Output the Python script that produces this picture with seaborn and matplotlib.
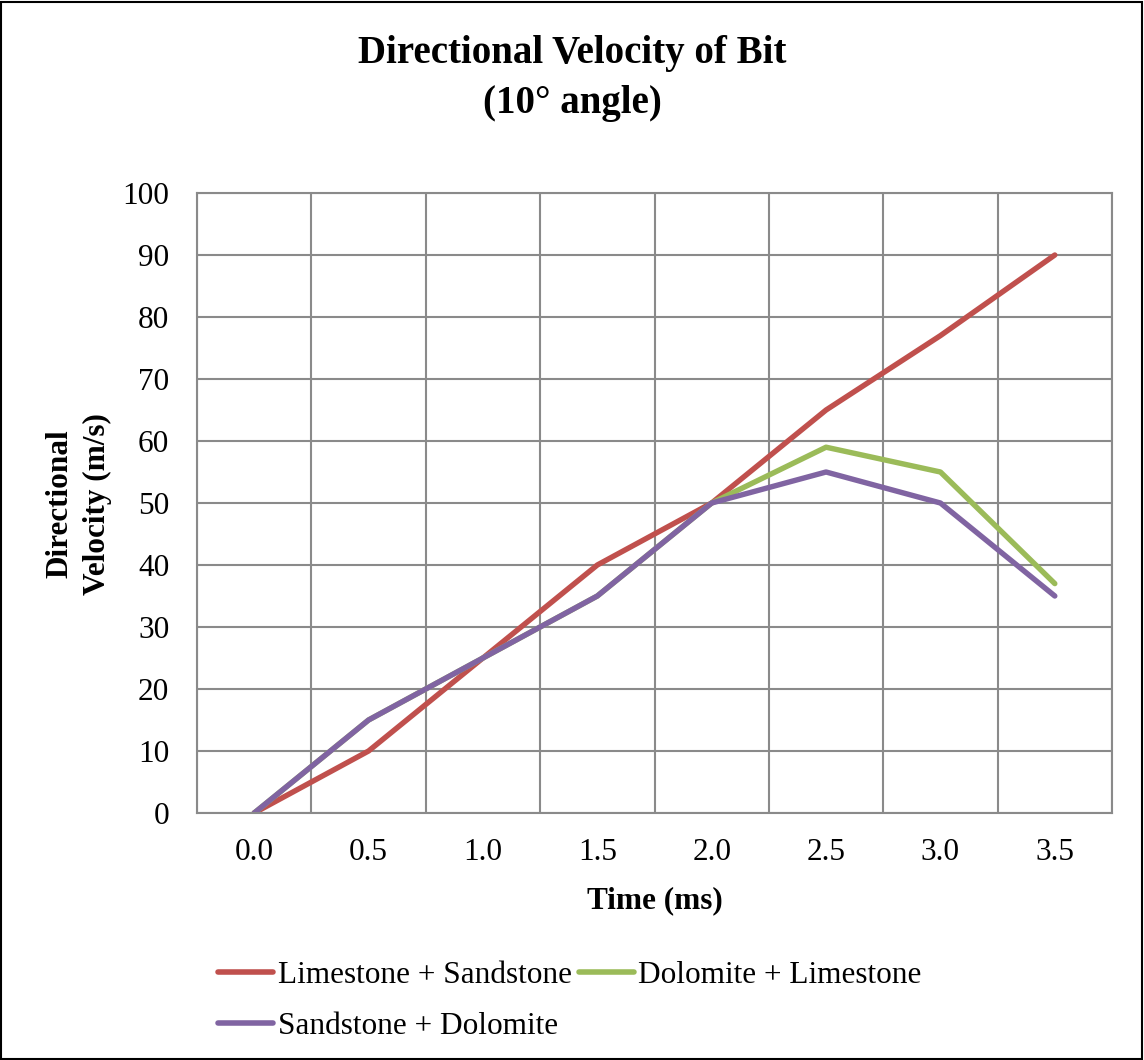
import matplotlib
matplotlib.use("Agg")
import matplotlib.pyplot as plt
import seaborn as sns
import pandas as pd
from matplotlib.patches import Rectangle
from matplotlib.lines import Line2D

categories = ["0.0", "0.5", "1.0", "1.5", "2.0", "2.5", "3.0", "3.5"]
limestone_sandstone = [0, 10, 25, 40, 50, 65, 77, 90]
dolomite_limestone = [0, 15, 25, 35, 50, 59, 55, 37]
sandstone_dolomite = [0, 15, 25, 35, 50, 55, 50, 35]
series_names = ["Limestone + Sandstone", "Dolomite + Limestone", "Sandstone + Dolomite"]
colors = ["#C0504D", "#9BBB59", "#8064A2"]

sns.set_theme(style="white")
plt.rcParams["font.family"] = ["Liberation Serif", "DejaVu Serif"]
plt.rcParams["text.color"] = "black"
plt.rcParams["axes.labelcolor"] = "black"

FS = 22.5

rows = []
for name, vals in zip(series_names, [limestone_sandstone, dolomite_limestone, sandstone_dolomite]):
    for i, v in enumerate(vals):
        rows.append({"pos": i, "value": v, "series": name})
df = pd.DataFrame(rows)

fig = plt.figure(figsize=(11.44, 10.6), dpi=100)
ax = fig.add_axes([197/1144, 1 - 813/1060, (1112-197)/1144, (813-193)/1060])

sns.lineplot(data=df, x="pos", y="value", hue="series", hue_order=series_names,
             palette=colors, linewidth=3.9, ax=ax, legend=False, sort=False)

ax.set_xlim(-0.5, len(categories) - 0.5)
ax.set_ylim(0, 100)
ax.set_yticks(range(0, 101, 10))
ax.set_xticks(range(len(categories)))
ax.set_xticklabels(categories)
ax.set_xticks([i - 0.5 for i in range(len(categories) + 1)], minor=True)
ax.grid(False)
ax.yaxis.grid(True, color="#8a8a8a", linewidth=1.5)
ax.xaxis.grid(True, which="minor", color="#8a8a8a", linewidth=1.5)
ax.set_axisbelow(True)
for s in ax.spines.values():
    s.set_color("#8a8a8a")
    s.set_linewidth(1.5)
ax.tick_params(axis="both", which="both", length=0, labelsize=FS, colors="black")
ax.tick_params(axis="y", pad=20)
ax.tick_params(axis="x", pad=18)

ax.set_xlabel("Time (ms)", fontsize=FS, fontweight="bold", labelpad=14)
ax.set_ylabel("")
fig.text(60/1144, 1 - 504/1060, "Directional", rotation=90,
         ha="center", va="center", fontsize=FS, fontweight="bold")
fig.text(97/1144, 1 - 504/1060, "Velocity (m/s)", rotation=90,
         ha="center", va="center", fontsize=FS, fontweight="bold")

fig.text(0.5, 1 - 53/1060, "Directional Velocity of Bit", ha="center", va="center",
         fontsize=28, fontweight="bold")
fig.text(0.5, 1 - 103/1060, "(10° angle)", ha="center", va="center",
         fontsize=28, fontweight="bold")

# legend order so that rows read: red, green / purple
order = [0, 2, 1]
handles = [Line2D([0], [0], color=colors[i], linewidth=4, solid_capstyle="round") for i in order]
labels = [series_names[i] for i in order]
fig.legend(handles, labels, loc="upper left", bbox_to_anchor=(218/1144, 1 - 961/1060),
           ncol=2, frameon=False, fontsize=FS, handlelength=1.76, handletextpad=0.15,
           columnspacing=0.22, labelspacing=0.71, borderaxespad=0, borderpad=0)

fig.add_artist(Rectangle((0.001, 0.001), 0.997, 0.997, transform=fig.transFigure,
                         fill=False, edgecolor="black", linewidth=1.5))

fig.savefig("out.png", dpi=100)
